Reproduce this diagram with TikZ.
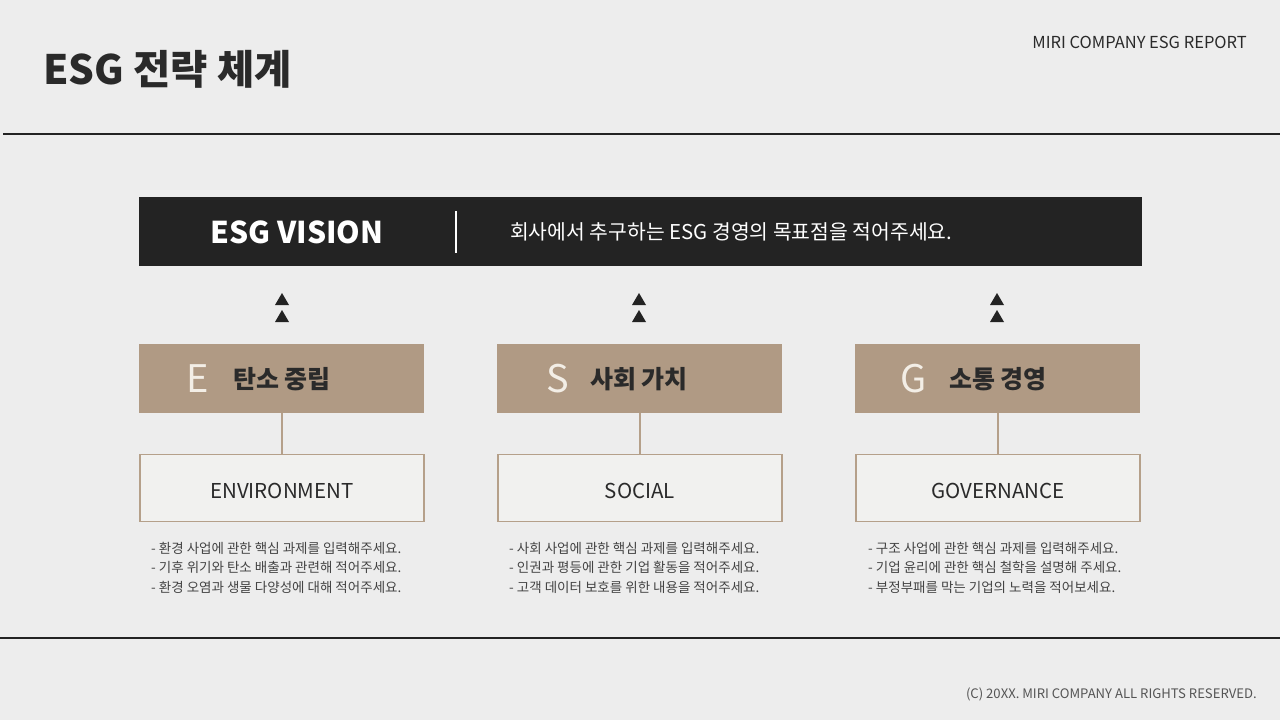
\documentclass[tikz,border=0pt]{standalone}
\usepackage{fontspec}
\setmainfont{Noto Sans CJK KR}
\usetikzlibrary{calc}
\definecolor{bg}{HTML}{EDEDED}
\definecolor{dark}{HTML}{232323}
\definecolor{tan}{HTML}{B09A84}
\definecolor{tanline}{HTML}{B5A08A}
\definecolor{inner}{HTML}{F1F1EF}
\definecolor{letter}{HTML}{F3EEE6}
\definecolor{txt}{HTML}{2A2A2A}
\definecolor{bul}{HTML}{444444}
\definecolor{foot}{HTML}{555555}
\begin{document}
\begin{tikzpicture}[x=1pt,y=-1pt,
  tanbox/.style={fill=tan,minimum width=285pt,minimum height=69pt,inner sep=0pt},
  whitebox/.style={fill=inner,draw=tanline,line width=1.6pt,minimum width=284pt,minimum height=67pt,inner sep=0pt},
  boxlabel/.style={text=txt,font=\fontsize{20.5}{24}\selectfont,inner sep=0pt},
  link/.style={draw=tanline,line width=1.6pt},
  bigletter/.style={text=letter,font=\fontsize{38}{44}\selectfont,inner sep=0pt},
  headtxt/.style={text=txt,font=\bfseries\fontsize{25}{30}\selectfont,inner sep=0pt},
  bullets/.style={text=bul,align=left,anchor=north west,inner sep=0pt,font=\fontsize{13.5}{19.5}\selectfont},
  tri/.style={fill=dark}]
\useasboundingbox (0,0) rectangle (1280,720);
\fill[bg] (0,0) rectangle (1280,720);
% header
\node[anchor=west,inner sep=0pt,text=txt,font=\bfseries\fontsize{40.5}{46}\selectfont] (title) at (43,69) {ESG 전략 체계};
\node[anchor=east,inner sep=0pt,text=txt,font=\fontsize{16.5}{19}\selectfont] (report) at (1247,42) {MIRI COMPANY ESG REPORT};
\coordinate (tl1) at (3,134);
\coordinate (tl2) at (1280,134);
\draw[dark,line width=1.2pt] (tl1) -- (tl2);
\coordinate (bl1) at (0,638);
\coordinate (bl2) at (1280,638);
\draw[dark,line width=1.2pt] (bl1) -- (bl2);
\node[anchor=east,inner sep=0pt,text=foot,font=\fontsize{13.1}{15}\selectfont] (footer) at (1257,694) {(C) 20XX. MIRI COMPANY ALL RIGHTS RESERVED.};
% vision
\node[fill=dark,minimum width=1003pt,minimum height=69pt,inner sep=0pt,anchor=north west] (vision) at (139,197) {};
\node[text=white,font=\bfseries\fontsize{30}{36}\selectfont,inner sep=0pt] (vtitle) at (297,232) {ESG VISION};
\coordinate (vs1) at (456,211);
\coordinate (vs2) at (456,253);
\draw[white,line width=2.2pt] (vs1) -- (vs2);
\node[anchor=west,text=white,font=\fontsize{20.4}{24}\selectfont,inner sep=0pt] (vtext) at (510,232) {회사에서 추구하는 ESG 경영의 목표점을 적어주세요.};
% triangles
\foreach \cx in {282,639,997}{
  \fill[tri] (\cx-7,305) -- (\cx+7,305) -- (\cx,293) -- cycle;
  \fill[tri] (\cx-7,322) -- (\cx+7,322) -- (\cx,310) -- cycle;
}
% columns
\node[tanbox,anchor=north west] (b1) at (139,344) {};
\node[tanbox,anchor=north west] (b2) at (497,344) {};
\node[tanbox,anchor=north west] (b3) at (855,344) {};
\node[bigletter] (l1) at (198,379) {E};
\node[bigletter] (l2) at (558,379) {S};
\node[bigletter] (l3) at (914,379) {G};
\node[headtxt,anchor=west] (h1) at (233,379) {탄소 중립};
\node[headtxt,anchor=west] (h2) at (590,379) {사회 가치};
\node[headtxt,anchor=west] (h3) at (949,379) {소통 경영};
\node[whitebox] (w1) at (282,488) {};
\node[whitebox] (w2) at (640,488) {};
\node[whitebox] (w3) at (998,488) {};
\node[boxlabel] (w1t) at (282,490.5) {ENVIRONMENT};
\node[boxlabel] (w2t) at (640,490.5) {SOCIAL};
\node[boxlabel] (w3t) at (998,490.5) {GOVERNANCE};
\draw[link] (b1.south -| w1.north) -- (w1.north);
\draw[link] (b2.south -| w2.north) -- (w2.north);
\draw[link] (b3.south -| w3.north) -- (w3.north);
\node[bullets] (t1) at (151,542) {- 환경 사업에 관한 핵심 과제를 입력해주세요.\\- 기후 위기와 탄소 배출과 관련해 적어주세요.\\- 환경 오염과 생물 다양성에 대해 적어주세요.};
\node[bullets] (t2) at (509,542) {- 사회 사업에 관한 핵심 과제를 입력해주세요.\\- 인권과 평등에 관한 기업 활동을 적어주세요.\\- 고객 데이터 보호를 위한 내용을 적어주세요.};
\node[bullets] (t3) at (868,542) {- 구조 사업에 관한 핵심 과제를 입력해주세요.\\- 기업 윤리에 관한 핵심 철학을 설명해 주세요.\\- 부정부패를 막는 기업의 노력을 적어보세요.};
\end{tikzpicture}
\end{document}
